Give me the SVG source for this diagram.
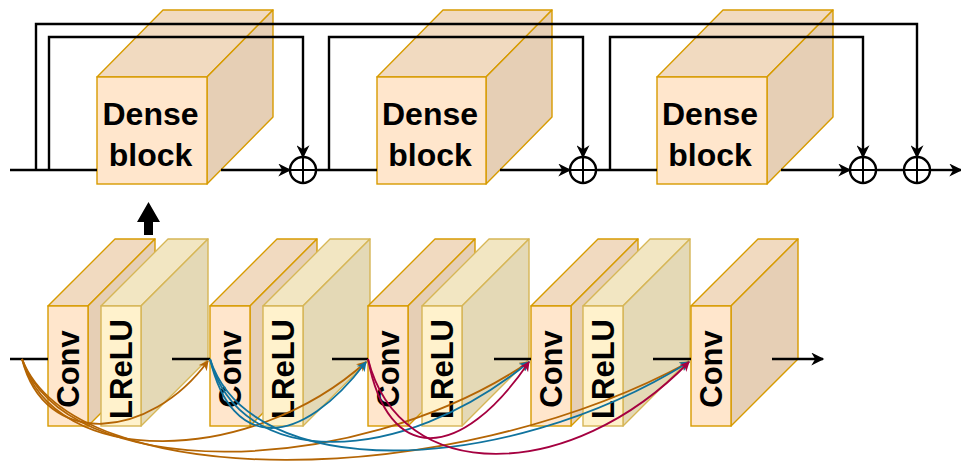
<svg xmlns="http://www.w3.org/2000/svg" width="961" height="464" viewBox="0 0 961 464">
<style>
.ff{fill:#ffe6cc;stroke:#d79b00;stroke-width:1.4}
.ft{fill:#f1dac0;stroke:#d79b00;stroke-width:1.4;stroke-linejoin:round}
.fs{fill:#e6cfb5;stroke:#d79b00;stroke-width:1.4;stroke-linejoin:round}
.lf{fill:#fff2cc;stroke:#d6b656;stroke-width:1.4}
.lt{fill:#f2e6c2;stroke:#d6b656;stroke-width:1.4;stroke-linejoin:round}
.ls{fill:#e4d9b6;stroke:#d6b656;stroke-width:1.4;stroke-linejoin:round}
.big{font-family:"Liberation Sans",Arial,sans-serif;font-weight:bold;font-size:32px;fill:#000;text-anchor:middle}
.sm{font-family:"Liberation Sans",Arial,sans-serif;font-weight:bold;font-size:31px;fill:#000;text-anchor:middle}
.ln{fill:none;stroke:#000;stroke-width:2.4}
.sum{fill:#fff;stroke:#000;stroke-width:2.4}
.cr{fill:none;stroke:#000;stroke-width:2}
.cu{fill:none;stroke-width:1.8}
.o{stroke:#b46504}
.b{stroke:#10739e}
.c{stroke:#a50040}
</style>
<defs>
<marker id="ar" viewBox="0 0 10 10" refX="9" refY="5" markerWidth="15" markerHeight="13" markerUnits="userSpaceOnUse" orient="auto">
<path d="M0,0 L10,5 L0,10 L3,5 z" fill="#000"/>
</marker>
<marker id="mo" viewBox="0 0 10 10" refX="9" refY="5" markerWidth="10" markerHeight="10" markerUnits="userSpaceOnUse" orient="auto">
<path d="M0,0 L10,5 L0,10 L3,5 z" fill="#b46504"/>
</marker>
<marker id="mb" viewBox="0 0 10 10" refX="9" refY="5" markerWidth="10" markerHeight="10" markerUnits="userSpaceOnUse" orient="auto">
<path d="M0,0 L10,5 L0,10 L3,5 z" fill="#10739e"/>
</marker>
<marker id="mc" viewBox="0 0 10 10" refX="9" refY="5" markerWidth="10" markerHeight="10" markerUnits="userSpaceOnUse" orient="auto">
<path d="M0,0 L10,5 L0,10 L3,5 z" fill="#a50040"/>
</marker>
</defs>
<rect width="961" height="464" fill="#fff"/>

<!-- Dense blocks -->
<g id="dense1">
<polygon class="ft" points="97,77 163,10 273,10 207,77"/>
<polygon class="fs" points="207,77 273,10 273,117 207,184"/>
<rect class="ff" x="97" y="77" width="110" height="107"/>
<text class="big" x="150.5" y="125">Dense</text>
<text class="big" x="150.5" y="166">block</text>
</g>
<g id="dense2">
<polygon class="ft" points="377,77 443,10 552,10 486,77"/>
<polygon class="fs" points="486,77 552,10 552,117 486,184"/>
<rect class="ff" x="377" y="77" width="109" height="107"/>
<text class="big" x="430" y="125">Dense</text>
<text class="big" x="430" y="166">block</text>
</g>
<g id="dense3">
<polygon class="ft" points="657,77 723,10 833,10 767,77"/>
<polygon class="fs" points="767,77 833,10 833,117 767,184"/>
<rect class="ff" x="657" y="77" width="110" height="107"/>
<text class="big" x="710" y="125">Dense</text>
<text class="big" x="710" y="166">block</text>
</g>

<g id="sum1"><circle class="sum" cx="303" cy="170" r="13"/><path class="cr" d="M290,170 H316 M303,157 V183"/></g>
<g id="sum2"><circle class="sum" cx="583" cy="170" r="13"/><path class="cr" d="M570,170 H596 M583,157 V183"/></g>
<g id="sum3"><circle class="sum" cx="863" cy="170" r="13"/><path class="cr" d="M850,170 H876 M863,157 V183"/></g>
<g id="sum4"><circle class="sum" cx="917" cy="170" r="13"/><path class="cr" d="M904,170 H930 M917,157 V183"/></g>

<!-- Lower layers -->
<g id="conv1">
<polygon class="ft" points="48,306 115,239 155,239 88,306"/>
<polygon class="fs" points="88,306 155,239 155,359 88,426"/>
<rect class="ff" x="48" y="306" width="40" height="120"/>
<text class="sm" transform="translate(79,369) rotate(-90)">Conv</text>
</g>
<g id="lrelu1">
<polygon class="lt" points="101,306 168,239 208,239 141,306"/>
<polygon class="ls" points="141,306 208,239 208,359 141,426"/>
<rect class="lf" x="101" y="306" width="40" height="120"/>
<text class="sm" transform="translate(132,369) rotate(-90)">LReLU</text>
</g>
<g id="conv2">
<polygon class="ft" points="210,306 277,239 317,239 250,306"/>
<polygon class="fs" points="250,306 317,239 317,359 250,426"/>
<rect class="ff" x="210" y="306" width="40" height="120"/>
<text class="sm" transform="translate(241,369) rotate(-90)">Conv</text>
</g>
<g id="lrelu2">
<polygon class="lt" points="263,306 330,239 370,239 303,306"/>
<polygon class="ls" points="303,306 370,239 370,359 303,426"/>
<rect class="lf" x="263" y="306" width="40" height="120"/>
<text class="sm" transform="translate(294,369) rotate(-90)">LReLU</text>
</g>
<g id="conv3">
<polygon class="ft" points="368,306 435,239 475,239 408,306"/>
<polygon class="fs" points="408,306 475,239 475,359 408,426"/>
<rect class="ff" x="368" y="306" width="40" height="120"/>
<text class="sm" transform="translate(399,369) rotate(-90)">Conv</text>
</g>
<g id="lrelu3">
<polygon class="lt" points="422,306 489,239 529,239 462,306"/>
<polygon class="ls" points="462,306 529,239 529,359 462,426"/>
<rect class="lf" x="422" y="306" width="40" height="120"/>
<text class="sm" transform="translate(453,369) rotate(-90)">LReLU</text>
</g>
<g id="conv4">
<polygon class="ft" points="531,306 598,239 638,239 571,306"/>
<polygon class="fs" points="571,306 638,239 638,359 571,426"/>
<rect class="ff" x="531" y="306" width="40" height="120"/>
<text class="sm" transform="translate(562,369) rotate(-90)">Conv</text>
</g>
<g id="lrelu4">
<polygon class="lt" points="583,306 650,239 690,239 623,306"/>
<polygon class="ls" points="623,306 690,239 690,359 623,426"/>
<rect class="lf" x="583" y="306" width="40" height="120"/>
<text class="sm" transform="translate(614,369) rotate(-90)">LReLU</text>
</g>
<g id="conv5">
<polygon class="ft" points="691,306 758,239 798,239 731,306"/>
<polygon class="fs" points="731,306 798,239 798,359 731,426"/>
<rect class="ff" x="691" y="306" width="40" height="120"/>
<text class="sm" transform="translate(722,369) rotate(-90)">Conv</text>
</g>

<g id="connectors">
<!-- top main line -->
<path class="ln" d="M10,170 H97"/>
<path class="ln" d="M221,170 H290" marker-end="url(#ar)"/>
<path class="ln" d="M316,170 H377"/>
<path class="ln" d="M500,170 H570" marker-end="url(#ar)"/>
<path class="ln" d="M596,170 H657"/>
<path class="ln" d="M781,170 H850" marker-end="url(#ar)"/>
<path class="ln" d="M876,170 H904"/>
<path class="ln" d="M930,170 H961" marker-end="url(#ar)"/>
<!-- skips -->
<path class="ln" d="M36,170 V24 H917 V157" marker-end="url(#ar)"/>
<path class="ln" d="M49,170 V37 H303 V157" marker-end="url(#ar)"/>
<path class="ln" d="M329,170 V37 H583 V157" marker-end="url(#ar)"/>
<path class="ln" d="M610,170 V37 H863 V157" marker-end="url(#ar)"/>
<!-- up arrow -->
<polygon points="144,235 153,235 153,222 160,222 148.5,202 137,222 144,222" fill="#000"/>
<!-- lower main line -->
<path class="ln" d="M10,359 H48"/>
<path class="ln" d="M172,359 H210"/>
<path class="ln" d="M332,359 H368"/>
<path class="ln" d="M494,359 H531"/>
<path class="ln" d="M653,359 H691"/>
<path class="ln" d="M772,359 H823" marker-end="url(#ar)"/>
<!-- dense connections -->
<path class="cu o" d="M22,359 C45,450 150,440 208,361" marker-end="url(#mo)"/>
<path class="cu o" d="M22,359 C55,470 250,466 366,362" marker-end="url(#mo)"/>
<path class="cu o" d="M22,359 C65,482 350,482 529,362" marker-end="url(#mo)"/>
<path class="cu o" d="M22,359 C75,494 450,492 689,362" marker-end="url(#mo)"/>
<path class="cu b" d="M210,359 C232,452 300,449 366,362" marker-end="url(#mb)"/>
<path class="cu b" d="M210,359 C240,470 400,468 529,362" marker-end="url(#mb)"/>
<path class="cu b" d="M210,359 C250,482 500,479 689,362" marker-end="url(#mb)"/>
<path class="cu c" d="M368,359 C388,465 460,463 529,362" marker-end="url(#mc)"/>
<path class="cu c" d="M368,359 C400,486 570,484 689,362" marker-end="url(#mc)"/>
</g>
</svg>
